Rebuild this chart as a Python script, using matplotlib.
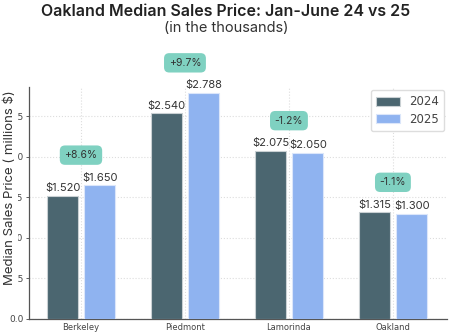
import numpy as np
import matplotlib.pyplot as plt

# median sales price, millions $
areas = ['Berkeley', 'Piedmont', 'Lamorinda', 'Oakland']
price_2024 = [1.520, 2.540, 2.075, 1.315]
price_2025 = [1.650, 2.788, 2.050, 1.300]
change_labels = ['+8.6%', '+9.7%', '-1.2%', '-1.1%']

c24 = '#4b6670'
c25 = '#8fb3f0'
badge = '#7fd1c1'
txt = '#333333'
font = 'Inter'

fig = plt.figure(figsize=(4.52, 3.33), dpi=100)
ax = fig.add_axes([29/452, 14/333, 418/452, 232/333])

x = np.arange(len(areas))
w = 0.30
off = 0.175
ax.bar(x - off, price_2024, w, color=c24, edgecolor='#c9d0d3', linewidth=0.8, label='2024', zorder=3)
ax.bar(x + off, price_2025, w, color=c25, edgecolor='#dbe6fa', linewidth=0.8, label='2025', zorder=3)

for i in range(len(areas)):
    ax.text(x[i] - off, price_2024[i] + 0.03, f'${price_2024[i]:.3f}', ha='center', va='bottom',
            fontsize=8, color=txt, family=font, zorder=4)
    ax.text(x[i] + off + 0.01, price_2025[i] + 0.03, f'${price_2025[i]:.3f}', ha='center', va='bottom',
            fontsize=8, color=txt, family=font, zorder=4)
    top = max(price_2024[i], price_2025[i])
    ax.text(x[i], top + 0.37, change_labels[i], ha='center', va='center', fontsize=7.5,
            color=txt, family=font, zorder=5,
            bbox=dict(boxstyle='round,pad=0.45,rounding_size=0.5', fc=badge, ec='none'))

ax.set_xlim(-0.5, 3.52)
ax.set_ylim(0, 2.86)
ax.set_xticks(x)
ax.set_xticklabels(areas, fontsize=6)
ax.set_yticks(np.arange(0, 2.6, 0.5))
ax.set_yticklabels([f'{v:.1f}' for v in np.arange(0, 2.6, 0.5)], fontsize=6.5)
ax.tick_params(axis='x', length=0, pad=3, colors='#444444')
ax.tick_params(axis='y', length=2, width=0.6, pad=2, colors='#444444')
ax.grid(True, color='#dddddd', linestyle=':', linewidth=0.8, zorder=0)

for s in ['top', 'right']:
    ax.spines[s].set_visible(False)
for s in ['left', 'bottom']:
    ax.spines[s].set_color('#555555')
    ax.spines[s].set_linewidth(0.9)

# the white label box sits over the first digit of the tick labels
ax.set_ylabel('Median Sales Price ( millions $)', fontsize=9.5, color=txt, family=font,
              bbox=dict(fc='white', ec='none', pad=1.0))
ax.yaxis.set_label_coords(-0.03, 0.565)

leg = ax.legend(loc='upper right', bbox_to_anchor=(1.008, 1.013), fontsize=8.5, handlelength=2.0,
                handleheight=0.8, labelcolor='#444444', framealpha=1, edgecolor='#dddddd',
                borderpad=0.45, labelspacing=0.4, handletextpad=0.8)

fig.text(0.5, 1 - 12/333, 'Oakland Median Sales Price: Jan-June 24 vs 25', ha='center', va='center',
         fontsize=11.5, fontweight='semibold', color='#222222', family=font)
fig.text(0.5, 1 - 28.5/333, '(in the thousands)', ha='center', va='center', fontsize=10.5,
         color=txt, family=font)

fig.savefig('out.png', dpi=100)
